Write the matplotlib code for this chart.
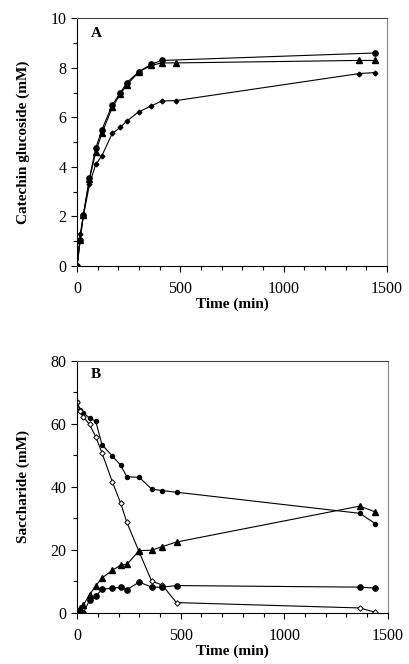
import matplotlib
matplotlib.use("Agg")
import matplotlib.pyplot as plt
from matplotlib.ticker import MultipleLocator

plt.rcParams['font.family'] = ['Liberation Serif', 'DejaVu Serif']

# Panel A: catechin glucoside (mM)
time_a = [0, 15, 30, 60, 90, 120, 170, 210, 240, 300, 360, 410, 1440]
cg_circle = [0, 1.05, 2.05, 3.55, 4.75, 5.5, 6.5, 7.0, 7.4, 7.85, 8.15, 8.3, 8.6]
time_a2 = [0, 15, 30, 60, 90, 120, 170, 210, 240, 300, 360, 410, 480, 1365, 1440]
cg_triangle = [0, 1.05, 2.05, 3.5, 4.6, 5.35, 6.4, 6.95, 7.3, 7.85, 8.1, 8.2, 8.2, 8.3, 8.3]
cg_diamond = [0, 1.3, 2.0, 3.3, 4.1, 4.45, 5.35, 5.6, 5.85, 6.23, 6.47, 6.66, 6.68, 7.77, 7.81]

# Panel B: saccharides (mM)
time_b = [0, 15, 30, 60, 90, 120, 170, 210, 240, 300, 360, 410, 480, 1365, 1440]
sac_dot = [66.8, 64.5, 63.5, 61.8, 60.8, 53.4, 49.8, 46.9, 43.2, 43.0, 39.3, 38.8, 38.3, 31.6, 28.3]
sac_open = [66.8, 64.0, 62.2, 59.8, 55.9, 50.8, 41.6, 34.9, 28.8, 19.3, 10.1, 8.9, 3.3, 1.6, 0.2]
sac_tri = [0, 1.5, 2.5, 5.8, 8.6, 11.1, 13.5, 15.2, 15.4, 19.8, 19.9, 21.0, 22.5, 33.9, 32.0]
sac_circle = [0, 0, 0, 4.0, 5.3, 7.5, 7.9, 8.1, 7.4, 9.8, 8.2, 8.2, 8.7, 8.2, 7.9]

fig = plt.figure(figsize=(4.10, 6.64), dpi=100)
ax1 = fig.add_axes([0.188, 0.5994, 0.756, 0.373])
ax2 = fig.add_axes([0.188, 0.0768, 0.758, 0.380])

lw = 0.8
ax1.plot(time_a2, cg_triangle, '-^', color='black', lw=lw, ms=3.8)
ax1.plot(time_a, cg_circle, '-o', color='black', lw=lw, ms=3.8)
ax1.plot(time_a2, cg_diamond, '-D', color='black', lw=lw, ms=2.4)

ax2.plot(time_b, sac_dot, '-o', color='black', lw=lw, ms=2.9)
ax2.plot(time_b, sac_open, '-D', color='black', mfc='white', lw=lw, ms=2.8, mew=0.7)
ax2.plot(time_b, sac_tri, '-^', color='black', lw=lw, ms=3.8)
ax2.plot(time_b, sac_circle, '-o', color='black', lw=lw, ms=3.8)

for ax, ymax, ystep, label, ylabel in [(ax1, 10, 2, 'A', 'Catechin glucoside (mM)'),
                                       (ax2, 80, 20, 'B', 'Saccharide (mM)')]:
    ax.set_xlim(0, 1500)
    ax.set_ylim(0, ymax)
    ax.xaxis.set_major_locator(MultipleLocator(500))
    ax.xaxis.set_minor_locator(MultipleLocator(100))
    ax.yaxis.set_major_locator(MultipleLocator(ystep))
    ax.yaxis.set_minor_locator(MultipleLocator(ystep / 2))
    ax.tick_params(which='major', direction='out', length=4, width=0.8, labelsize=11.5)
    ax.tick_params(which='minor', direction='out', length=3, width=0.8)
    ax.tick_params(axis='x', which='major', pad=7)
    ax.spines['right'].set_color('#888888')
    ax.spines['top'].set_color('#444444')
    ax.set_xlabel('Time (min)', fontsize=11, fontweight='bold', labelpad=0)
    ax.set_ylabel(ylabel, fontsize=11, fontweight='bold', labelpad=15)
    ax.text(0.045, 0.965 if label == 'A' else 0.97, label, transform=ax.transAxes, fontsize=11,
            fontweight='bold', va='top', ha='left')

fig.savefig('out.png', dpi=100)
